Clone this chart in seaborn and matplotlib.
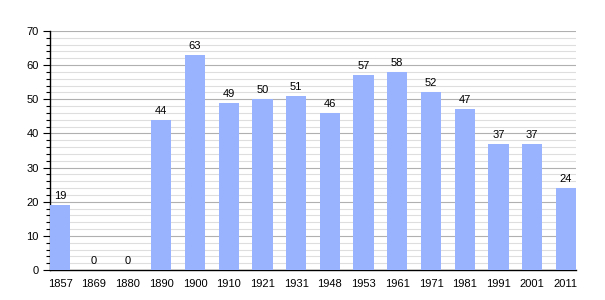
import matplotlib
matplotlib.use("Agg")
import matplotlib.pyplot as plt
import seaborn as sns
import pandas as pd
from matplotlib.ticker import MultipleLocator

years = ["1857", "1869", "1880", "1890", "1900", "1910", "1921", "1931", "1948",
         "1953", "1961", "1971", "1981", "1991", "2001", "2011"]
population = [19, 0, 0, 44, 63, 49, 50, 51, 46, 57, 58, 52, 47, 37, 37, 24]

df = pd.DataFrame({"year": years, "pop": population})

sns.set_style("white")
plt.rcParams['font.family'] = ['Liberation Sans', 'DejaVu Sans']
plt.rcParams['text.color'] = 'black'
plt.rcParams['xtick.color'] = 'black'
plt.rcParams['ytick.color'] = 'black'

fig = plt.figure(figsize=(6.05, 3.0), dpi=100)
ax = fig.add_axes([0.0826, 0.1, 0.952 - 0.0826, 0.897 - 0.1])

sns.barplot(data=df, x="year", y="pop", color="#99b3ff", saturation=1,
            width=0.6, ax=ax, zorder=3, linewidth=0, edgecolor="none")

ax.set_ylim(0, 70)
ax.set_xlim(-0.3, len(years) - 0.7)
ax.yaxis.set_major_locator(MultipleLocator(10))
ax.yaxis.set_minor_locator(MultipleLocator(2))
ax.grid(axis="y", which="major", color="#b0b0b0", linewidth=0.8, zorder=0)
ax.grid(axis="y", which="minor", color="#dedede", linewidth=0.8, zorder=0)
ax.set_axisbelow(True)

for s in ["top", "right"]:
    ax.spines[s].set_visible(False)
for s in ["left", "bottom"]:
    ax.spines[s].set_color("black")
    ax.spines[s].set_linewidth(1.0)

ax.tick_params(axis="y", which="major", left=True, length=5, width=0.8, color="black", labelsize=8, pad=3)
ax.tick_params(axis="y", which="minor", left=True, length=3, width=0.8, color="black")
ax.tick_params(axis="x", bottom=False, labelsize=8, pad=3)

for i, v in enumerate(population):
    ax.text(i, v + 1.2, str(v), ha="center", va="bottom", fontsize=8, color="black")

ax.set_xlabel("")
ax.set_ylabel("")

fig.savefig("out.png", dpi=100)
